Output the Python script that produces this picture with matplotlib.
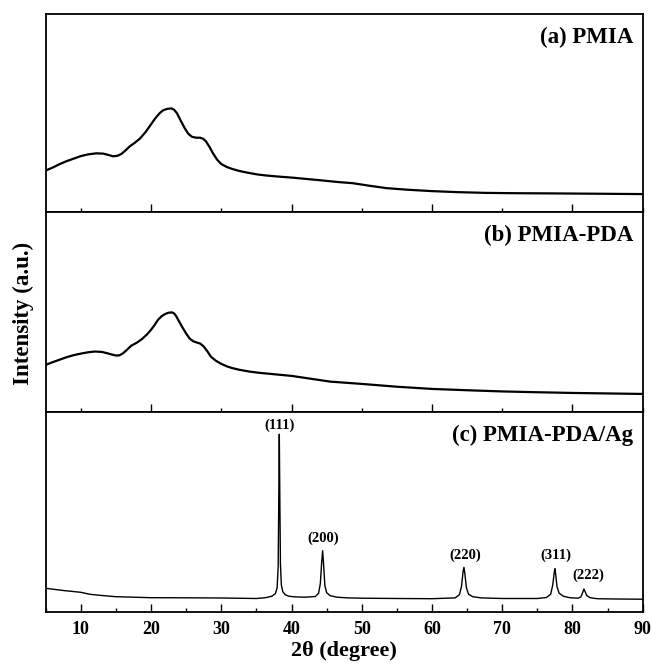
import numpy as np
import matplotlib
matplotlib.use("Agg")
import matplotlib.pyplot as plt
from matplotlib.ticker import MultipleLocator

plt.rcParams['font.family'] = ['Liberation Serif', 'DejaVu Serif']
plt.rcParams['font.weight'] = 'bold'

# (a) PMIA
x_a = [5, 6, 7, 8, 9, 10, 11, 12.2, 13.2, 14, 14.6, 15.2, 15.8, 16.4, 17, 17.7,
       18.4, 19.2, 20, 20.6, 21.2, 21.7, 22.3, 22.9, 23.3, 23.7, 24.2, 24.8,
       25.3, 25.8, 26.4, 27, 27.4, 27.8, 28.3, 28.8, 29.4, 30, 30.8, 31.6, 32.6,
       34, 35.2, 36.4, 38, 40.2, 42, 44, 45.5, 47, 48.7, 51, 53.5, 56.5, 60,
       63.5, 67.8, 72, 77.2, 85, 90]
y_a = [42, 45, 48.5, 51.5, 54, 56.5, 58.2, 59.3, 59, 57.5, 56.3, 56.8, 58.8,
       62.5, 66.5, 70, 74, 80.5, 88.5, 94.5, 99.5, 102.5, 104, 104.5, 103, 99.5,
       92.5, 84.5, 79, 76, 75, 75, 74, 71.5, 66, 59.5, 53, 48.5, 45.5, 43.5,
       41.5, 39.5, 38, 37, 36, 34.8, 33.6, 32.3, 31.2, 30.2, 29.3, 26.8, 24.3,
       22.7, 21.3, 20.3, 19.5, 19.2, 19, 18.6, 18.3]

# (b) PMIA-PDA
x_b = [5, 6, 7, 8, 9, 10, 11, 12, 13, 13.7, 14.4, 15, 15.5, 16, 16.6, 17.2,
       18, 18.7, 19.4, 20, 20.5, 21, 21.5, 22, 22.5, 23, 23.3, 23.6, 24, 24.5,
       25, 25.5, 26, 26.5, 27, 27.5, 28, 28.5, 29.2, 30, 30.8, 31.5, 32.5, 34,
       35.5, 37, 40, 43, 45.5, 50, 55, 60, 65, 70, 75, 80, 85, 90]
y_b = [47.3, 50, 52.5, 55, 57, 58.5, 59.8, 60.6, 60.2, 59, 57.6, 56.6, 56.8,
       58.8, 62.5, 66.5, 69.5, 73, 77.5, 82.3, 87, 92.3, 95.8, 98, 99.3, 99.6,
       98.5, 95.6, 90.5, 84.3, 78.5, 73.5, 70.8, 69.6, 68.5, 65.6, 61, 55.6,
       51.5, 48.3, 45.8, 44.2, 42.5, 40.6, 39.3, 38.3, 36.3, 33.2, 30.6, 28.3,
       25.5, 23.3, 22, 20.8, 20, 19.3, 18.8, 18.3]

# (c) PMIA-PDA/Ag
x_c = [5, 7.5, 10, 11.3, 13, 15, 20, 25, 30, 35, 36.3, 37.2, 37.7, 37.95,
       38.1, 38.18, 38.26, 38.34, 38.42, 38.55, 38.75, 39.1, 39.6, 40.5, 42,
       43.4, 43.85, 44.1, 44.3, 44.43, 44.56, 44.75, 45.0, 45.5, 46.5, 48, 50,
       55, 60, 63.3, 63.9, 64.2, 64.42, 64.55, 64.68, 64.9, 65.2, 65.8, 67, 70,
       75, 76.3, 76.9, 77.2, 77.4, 77.5, 77.6, 77.8, 78.1, 78.7, 79.6, 80.8,
       81.2, 81.45, 81.63, 81.8, 82.05, 82.5, 83.5, 86, 90]
y_c = [23.4, 21.2, 19.4, 17.4, 16.2, 15, 14, 13.9, 13.7, 13.2, 14, 15.5, 18,
       24, 45, 110, 177.5, 110, 48, 27, 20, 17, 15.5, 14.8, 14.5, 15.2, 18.5,
       28, 50, 61, 48, 26, 19, 16, 14.5, 13.8, 13.5, 13.2, 13, 13.8, 17, 25,
       40, 44.4, 38, 24, 17.5, 15, 13.8, 13.2, 13.2, 14.2, 17.5, 27, 39, 43,
       38, 25, 18.5, 15.5, 14, 13.5, 14.8, 19, 22.7, 20, 16, 14, 13, 12.7, 12.5]

peak_labels = ["(111)", "(200)", "(220)", "(311)", "(222)"]
peak_lx = [38.26, 44.5, 64.7, 77.57, 82.3]
peak_ly = [179.5, 66.5, 50, 49.4, 29.4]

panel_titles = ["(a) PMIA", "(b) PMIA-PDA", "(c) PMIA-PDA/Ag"]

fig = plt.figure(figsize=(6.51, 6.63), dpi=100)
left, right = 45.7 / 651, 642.7 / 651
edges = [14, 212.3, 412.3, 611.7]
axes = []
for i in range(3):
    top = 1 - edges[i] / 663
    bot = 1 - edges[i + 1] / 663
    ax = fig.add_axes([left, bot, right - left, top - bot])
    axes.append(ax)

data = [(x_a, y_a, 1.6), (x_b, y_b, 1.6), (x_c, y_c, 1.0)]
for i, ax in enumerate(axes):
    xs, ys, lw = data[i]
    ax.plot(xs, ys, color='black', lw=lw)
    ax.set_xlim(5, 90)
    ax.set_ylim(0, 199.4)
    ax.set_yticks([])
    for s in ax.spines.values():
        s.set_linewidth(1.3)
    ax.text(0.984, 0.935, panel_titles[i], transform=ax.transAxes,
            ha='right', va='top', fontsize=16.5, fontweight='bold')
    ax.tick_params(axis='x', which='both', direction='in', top=False, width=1.0)
    ax.tick_params(axis='x', which='major', length=6)
    ax.tick_params(axis='x', which='minor', length=3)
    if i < 2:
        ax.xaxis.set_major_locator(MultipleLocator(20))
        ax.xaxis.set_minor_locator(MultipleLocator(10))
        ax.set_xticklabels([])
    else:
        ax.xaxis.set_major_locator(MultipleLocator(10))
        ax.xaxis.set_minor_locator(MultipleLocator(5))
        ax.tick_params(axis='x', which='major', labelsize=13, pad=7)
        for lab in ax.get_xticklabels():
            lab.set_fontweight('bold')
        ax.set_xlabel("2θ (degree)", fontsize=16, fontweight='bold', labelpad=2)

ax = axes[2]
for t, lx, ly in zip(peak_labels, peak_lx, peak_ly):
    ax.text(lx, ly, t, ha='center', va='bottom', fontsize=10.5, fontweight='bold')

fig.text(23 / 651, 1 - 313 / 663, "Intensity (a.u.)", rotation=90,
         ha='center', va='center', fontsize=16.5, fontweight='bold')

fig.savefig("out.png", dpi=100)
